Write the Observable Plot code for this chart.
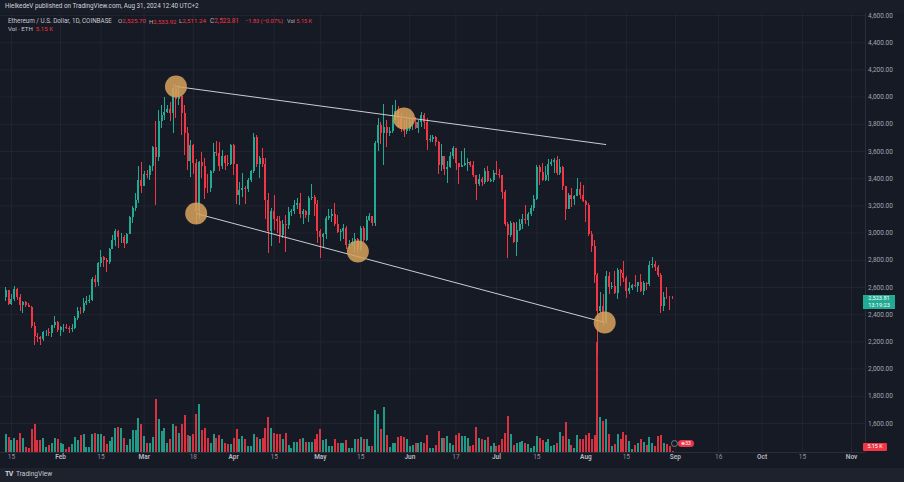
<!DOCTYPE html>
<html>
<head>
<meta charset="utf-8">
<script src="https://cdn.jsdelivr.net/npm/d3@7"></script>
<script src="https://cdn.jsdelivr.net/npm/@observablehq/plot@0.6"></script>
<style>
  html, body { margin: 0; padding: 0; background: #161a25; }
  #wrap { position: relative; width: 904px; height: 482px; overflow: hidden; background: #161a25; font-family: Roboto, "Noto Sans", sans-serif; }
  #wrap svg { position: absolute; left: 0; top: 0; }
  .ov { position: absolute; white-space: nowrap; font-size: 6.4px; line-height: 8px; color: #c4c7cf; }
  .red { color: #f23645; }
  .grey { color: #b2b5be; }
</style>
</head>
<body>
<div id="wrap"></div>
<script>
// ---------------- DATA (ETH / USD, 1D, Coinbase, from 2024-01-13) ----------------
const firstDate = "2024-01-13";
const firstOpen = 2525;

const closes = [
  2577, 2474, 2510, 2587, 2529, 2469, 2490, 2470, 2455, 2313, 2241, 2235, 2219, 2268, 2272, 2259, 2317, 2343, 2283,
  2303, 2309, 2296, 2289, 2297, 2372, 2425, 2420, 2486, 2500, 2507, 2660, 2640, 2780, 2822, 2800, 2785, 2880, 2945, 3015, 2968, 2970, 2922, 2990, 3113, 3180, 3243, 3385, 3340,
  3434, 3420, 3489, 3630, 3553, 3818, 3868, 3885, 3910, 3880, 4066, 3980, 4005, 3880, 3735, 3525, 3645, 3515, 3160, 3518, 3490, 3330, 3325, 3455, 3590, 3587, 3490, 3560, 3510, 3505, 3647,
  3505, 3280, 3312, 3330, 3318, 3390, 3452, 3700, 3505, 3545, 3505, 3240, 3010, 3160, 3100, 3085, 2985, 3065, 3055, 3155, 3158, 3200, 3220, 3140, 3160, 3130, 3255, 3265, 3210, 3015,
  2970, 2990, 3105, 3120, 3135, 3060, 3005, 3015, 3035, 2910, 2915, 2930, 2950, 2880, 3035, 2945, 3090, 3120, 3070, 3660, 3790, 3735, 3780, 3730, 3750, 3825, 3895, 3845, 3765, 3745, 3760,
  3812, 3815, 3767, 3810, 3865, 3810, 3680, 3685, 3705, 3665, 3500, 3560, 3470, 3480, 3565, 3620, 3510, 3480, 3500, 3510, 3520, 3495, 3420, 3355, 3395, 3370, 3450, 3380, 3385, 3435,
  3430, 3420, 3295, 3060, 2985, 3070, 2930, 3020, 3065, 3100, 3095, 3135, 3180, 3245, 3485, 3445, 3390, 3425, 3505, 3520, 3535, 3440, 3480, 3340, 3175, 3275, 3250, 3270, 3320, 3280, 3230,
  3205, 2990, 2905, 2690, 2420, 2460, 2340, 2680, 2600, 2610, 2555, 2725, 2705, 2665, 2570, 2595, 2615, 2610, 2635, 2570, 2630, 2625, 2765, 2770, 2750, 2685, 2460, 2530, 2528, 2525.64, 2523.81
];
const highs = [
  2600, 2580, 2550, 2610, 2590, 2548, 2500, 2500, 2480, 2460, 2340, 2260, 2240, 2280, 2285, 2300, 2320, 2390, 2350,
  2310, 2330, 2325, 2310, 2330, 2390, 2450, 2450, 2520, 2535, 2540, 2670, 2690, 2785, 2870, 2830, 2815, 2890, 2985, 3030, 3020, 3000, 2985, 3000, 3120, 3195, 3290, 3490, 3520,
  3450, 3460, 3500, 3640, 3822, 3900, 3940, 3997, 3935, 3960, 4085, 4094, 4085, 4010, 3935, 3780, 3680, 3650, 3540, 3530, 3590, 3545, 3430, 3460, 3660, 3675, 3665, 3610, 3570, 3570, 3655,
  3650, 3505, 3370, 3440, 3340, 3400, 3460, 3730, 3720, 3560, 3620, 3550, 3290, 3180, 3280, 3125, 3120, 3090, 3130, 3190, 3175, 3240, 3255, 3290, 3170, 3165, 3270, 3355, 3280, 3240,
  3025, 3000, 3125, 3170, 3175, 3220, 3130, 3030, 3060, 3050, 2945, 2960, 2995, 2960, 3045, 3045, 3120, 3145, 3125, 3675, 3840, 3810, 3945, 3830, 3780, 3935, 3975, 3930, 3880, 3825, 3845,
  3835, 3840, 3850, 3830, 3885, 3880, 3840, 3715, 3715, 3710, 3670, 3655, 3560, 3525, 3590, 3640, 3625, 3515, 3600, 3625, 3545, 3530, 3525, 3410, 3430, 3410, 3475, 3490, 3400, 3460,
  3525, 3470, 3425, 3310, 3080, 3085, 3080, 3075, 3100, 3140, 3205, 3150, 3200, 3275, 3500, 3500, 3515, 3490, 3540, 3540, 3545, 3560, 3540, 3490, 3345, 3290, 3330, 3280, 3400, 3370, 3350,
  3240, 3215, 3015, 2945, 2700, 2560, 2550, 2715, 2710, 2640, 2720, 2740, 2735, 2790, 2680, 2640, 2620, 2690, 2640, 2695, 2645, 2640, 2790, 2820, 2790, 2760, 2700, 2560, 2600, 2535, 2533.92
];
const lows = [
  2500, 2470, 2470, 2500, 2505, 2420, 2410, 2455, 2450, 2300, 2170, 2195, 2170, 2200, 2240, 2240, 2230, 2300, 2270,
  2240, 2270, 2290, 2265, 2270, 2290, 2360, 2400, 2410, 2470, 2480, 2495, 2600, 2610, 2750, 2750, 2710, 2770, 2880, 2900, 2890, 2925, 2890, 2915, 2990, 3070, 3160, 3220, 3290,
  3340, 3400, 3390, 3450, 3200, 3530, 3770, 3830, 3880, 3820, 3735, 3840, 3935, 3720, 3570, 3460, 3410, 3430, 3060, 3100, 3400, 3250, 3290, 3300, 3440, 3560, 3455, 3470, 3460, 3490, 3500,
  3420, 3210, 3200, 3260, 3210, 3300, 3375, 3440, 3480, 3400, 3480, 3100, 2850, 2900, 3020, 3000, 2920, 2960, 2860, 3030, 3120, 3140, 3170, 3110, 3060, 3110, 3075, 3240, 3120, 2920,
  2815, 2890, 2955, 3090, 3080, 3045, 3000, 2940, 2950, 2880, 2880, 2900, 2860, 2860, 2865, 2930, 2935, 3085, 3050, 3050, 3600, 3655, 3500, 3630, 3710, 3735, 3825, 3775, 3740, 3700, 3725,
  3750, 3755, 3760, 3730, 3775, 3760, 3610, 3665, 3665, 3640, 3430, 3450, 3425, 3365, 3475, 3540, 3460, 3360, 3480, 3490, 3450, 3485, 3410, 3240, 3345, 3340, 3360, 3375, 3370, 3370,
  3420, 3400, 3250, 3050, 2810, 2970, 2920, 2830, 3010, 3030, 3060, 3050, 3120, 3160, 3240, 3350, 3380, 3380, 3380, 3490, 3440, 3420, 3420, 3310, 3090, 3170, 3190, 3200, 3310, 3250, 3225,
  3080, 2975, 2860, 2630, 2111, 2410, 2310, 2330, 2550, 2585, 2550, 2510, 2610, 2640, 2520, 2550, 2580, 2600, 2565, 2560, 2540, 2575, 2610, 2740, 2715, 2675, 2410, 2420, 2510, 2430, 2511.24
];
// volume in thousands of ETH
const volumes = [
  180, 150, 120, 140, 120, 190, 140, 50, 40, 230, 280, 120, 120, 140, 50, 70, 90, 140, 130,
  90, 80, 30, 50, 80, 150, 120, 170, 180, 50, 50, 180, 190, 180, 180, 160, 80, 110, 150, 240, 250, 240, 140, 70, 130, 220, 220, 340, 280,
  160, 90, 90, 150, 530, 330, 210, 240, 90, 130, 280, 260, 190, 280, 370, 170, 160, 180, 380, 480, 220, 240, 140, 90, 180, 140, 170, 130, 90, 80, 80,
  140, 230, 130, 160, 130, 60, 60, 180, 150, 130, 140, 240, 350, 240, 190, 180, 180, 130, 190, 70, 40, 100, 100, 130, 140, 100, 100, 100, 130, 180,
  230, 120, 130, 60, 60, 130, 90, 90, 90, 120, 40, 40, 130, 130, 150, 130, 130, 60, 60, 420, 380, 230, 450, 170, 50, 90, 90, 150, 160, 150, 130,
  60, 70, 90, 90, 100, 90, 170, 40, 40, 70, 210, 140, 140, 160, 90, 70, 170, 190, 160, 160, 140, 60, 70, 250, 140, 130, 120, 150, 60, 90,
  60, 70, 130, 190, 360, 180, 70, 90, 100, 110, 90, 80, 40, 60, 160, 140, 120, 100, 130, 60, 70, 90, 200, 160, 300, 130, 70, 40, 170, 130, 130,
  170, 190, 130, 170, 1100, 350, 310, 330, 180, 60, 80, 180, 130, 200, 170, 110, 30, 70, 90, 130, 100, 70, 150, 90, 60, 160, 170, 90, 80, 60, 5.15
];

// Annotations: highlighted touch points and the two trend lines
const touchDates  = ["2024-03-12", "2024-03-19", "2024-05-14", "2024-05-30", "2024-08-07T12:00Z"];
const touchPrices = [4078, 3144, 2865, 3843, 2343];
const trendStartDates  = ["2024-03-12", "2024-03-19"];
const trendStartPrices = [4078, 3144];
const trendEndDates    = ["2024-08-08", "2024-08-07T12:00Z"];
const trendEndPrices   = [3651, 2343];

// Axis ticks
const priceTicks = [1600, 1800, 2000, 2200, 2400, 2600, 2800, 3000, 3200, 3400, 3600, 3800, 4000, 4200, 4400, 4600];
const monthTickDates  = ["2024-02-01", "2024-03-01", "2024-04-01", "2024-05-01", "2024-06-01", "2024-07-01", "2024-08-01", "2024-09-01", "2024-10-01", "2024-11-01"];
const monthTickLabels = ["Feb", "Mar", "Apr", "May", "Jun", "Jul", "Aug", "Sep", "Oct", "Nov"];
const dayTickDates  = ["2024-01-15", "2024-02-15", "2024-03-18", "2024-04-15", "2024-05-15", "2024-06-17", "2024-07-15", "2024-08-15", "2024-09-16", "2024-10-15"];
const dayTickLabels = ["15", "15", "18", "15", "15", "17", "15", "15", "16", "15"];

// ---------------- LAYOUT ----------------
const UP = "#22ab94", DOWN = "#f23645";
const W = 904, H = 468;
const MT = 12, MR = 39, MB = 16, ML = 0;
const DAY = 864e5;
const pxPerDay = 2.887, feb1X = 60;
const feb1 = Date.UTC(2024, 1, 1);
const xDomain = [new Date(feb1 - feb1X / pxPerDay * DAY), new Date(feb1 + (W - MR - feb1X) / pxPerDay * DAY)];
const pxPerDollar = 0.136, y4600 = 15;
const priceDomain = [4600 - (H - MB - y4600) / pxPerDollar, 4600 + (y4600 - MT) / pxPerDollar];
const volDomain = [0, (H - MB - MT) * 10];

const t0 = new Date(firstDate + "T00:00Z").getTime();
const candles = closes.map((c, i) => {
  const open = i === 0 ? firstOpen : closes[i - 1];
  return {date: new Date(t0 + i * DAY), open, high: highs[i], low: lows[i], close: c, vol: volumes[i], color: c >= open ? UP : DOWN};
});
const touches = touchDates.map((d, i) => ({date: new Date(d), price: touchPrices[i]}));
const trends = trendStartDates.map((d, i) => ({d1: new Date(d), p1: trendStartPrices[i], d2: new Date(trendEndDates[i]), p2: trendEndPrices[i]}));
const months = monthTickLabels.map((l, i) => ({date: new Date(monthTickDates[i]), label: l}));
const days = dayTickLabels.map((l, i) => ({date: new Date(dayTickDates[i]), label: l}));

const base = {
  width: W, height: H, marginTop: MT, marginRight: MR, marginBottom: MB, marginLeft: ML,
  style: {background: "transparent", fontFamily: "Roboto, sans-serif", fontSize: "6.5px", color: "#a3a6af", overflow: "visible"}
};
const GRID = "#2a2e39";

const gridPlot = Plot.plot({
  ...base,
  x: {type: "utc", domain: xDomain, axis: null},
  y: {domain: priceDomain},
  marks: [
    Plot.ruleY(priceTicks, {stroke: GRID, strokeOpacity: 0.55}),
    Plot.ruleX(months.concat(days), {x: "date", stroke: GRID, strokeOpacity: 0.55}),
    Plot.ruleX([xDomain[1]], {stroke: GRID, strokeWidth: 1, y1: priceDomain[0], y2: priceDomain[1]}),
    Plot.ruleY([priceDomain[0]], {stroke: GRID, strokeWidth: 1}),
    Plot.axisY(priceTicks, {anchor: "right", tickSize: 0, tickPadding: 2.5, tickFormat: d3.format(",.2f"), label: null}),
    Plot.text(days, {x: "date", text: "label", frameAnchor: "bottom", dy: 6.5, fill: "#8f929b"}),
    Plot.text(months, {x: "date", text: "label", frameAnchor: "bottom", dy: 6.5, fill: "#b8bbc3", fontWeight: 600})
  ]
});

const volPlot = Plot.plot({
  ...base,
  x: {type: "utc", domain: xDomain, axis: null},
  y: {domain: volDomain, axis: null},
  color: {type: "identity"},
  marks: [
    Plot.ruleX(candles, {x: "date", y1: 0, y2: "vol", stroke: "color", strokeWidth: 2, strokeOpacity: 0.88, shapeRendering: "crispEdges"})
  ]
});

const candlePlot = Plot.plot({
  ...base,
  x: {type: "utc", domain: xDomain, axis: null},
  y: {domain: priceDomain, axis: null},
  color: {type: "identity"},
  marks: [
    Plot.ruleX(candles, {x: "date", y1: "low", y2: "high", stroke: "color", strokeWidth: 1, shapeRendering: "crispEdges"}),
    Plot.ruleX(candles, {x: "date", y1: "open", y2: "close", stroke: "color", strokeWidth: 2, shapeRendering: "crispEdges"}),
    Plot.link(trends, {x1: "d1", y1: "p1", x2: "d2", y2: "p2", stroke: "#c9ccd4", strokeWidth: 1}),
    Plot.dot(touches, {x: "date", y: "price", r: 11, fill: "#d6a35c", fillOpacity: 0.86, stroke: "none"})
  ]
});

const wrap = document.getElementById("wrap");
wrap.append(gridPlot, volPlot, candlePlot);

// ---------------- OVERLAYS (header, labels, footer) ----------------
function div(css, html, cls) {
  const d = document.createElement("div");
  d.className = "ov" + (cls ? " " + cls : "");
  d.style.cssText = css;
  d.innerHTML = html;
  wrap.appendChild(d);
  return d;
}
// size a text overlay so that its width matches the reference
function fit(el, targetWidth, cy) {
  const w = el.getBoundingClientRect().width;
  const fs = parseFloat(getComputedStyle(el).fontSize);
  const nfs = Math.max(5, Math.min(9, fs * targetWidth / w));
  el.style.fontSize = nfs + "px";
  el.style.lineHeight = "9px";
  el.style.top = (cy - 4.5) + "px";
}
// top strip
div("left:0;top:0;width:904px;height:13px;background:#191d28;", "");
fit(div("left:5px;color:#d1d4dc;", "HielkedeV published on TradingView.com, Aug 31, 2024 12:40 UTC+2"), 194, 6.5);
// legend
const lastCandle = candles[candles.length - 1];
fit(div("left:8px;", "Ethereum / U.S. Dollar, 1D, COINBASE"), 104, 21);
fit(div("left:118px;", '<span class="grey">O</span><span class="red">2,525.70</span>'), 28, 21);
fit(div("left:149px;", '<span class="grey">H</span><span class="red">2,533.92</span>'), 27.5, 21);
fit(div("left:179px;", '<span class="grey">L</span><span class="red">2,511.24</span>'), 27, 21);
fit(div("left:210px;", '<span class="grey">C</span><span class="red">2,523.81</span>'), 29, 21);
fit(div("left:245px;", '<span class="red">\u22121.83 (\u22120.07%)</span>'), 38, 21);
fit(div("left:287px;", '<span class="grey">Vol</span> <span class="red">5.15 K</span>'), 25, 21);
fit(div("left:8px;", 'Vol \u00b7 ETH &nbsp;<span class="red">5.15 K</span>'), 45, 28.7);

// last price box on the price scale
const yP = gridPlot.scale("y");
const yLast = yP.apply(lastCandle.close);
div(`left:863px;top:${yLast - 2.5}px;width:32px;height:14px;background:${UP};color:#fff;font-size:5.6px;line-height:6.5px;text-align:center;padding-top:0.5px;box-sizing:border-box;`,
    "2,523.81<br>13:19:23");
// volume box
const yV = volPlot.scale("y");
const yVol = yV.apply(lastCandle.vol);
div(`left:863px;top:${yVol - 8}px;width:24px;height:7.5px;background:${DOWN};color:#fff;font-size:5.4px;line-height:7.5px;text-align:center;border-radius:1px;`, "5.15 K");
// events marker near the last bar
const xS = gridPlot.scale("x");
const xLast = xS.apply(lastCandle.date);
div(`left:${xLast - 1}px;top:439.5px;width:7px;height:7px;border-radius:50%;border:1px solid #7d808a;box-sizing:border-box;background:#161a25;`, "");
div(`left:${xLast + 6}px;top:439.5px;width:16px;height:7px;border-radius:4px;background:#e8354a;color:#fff;font-size:5px;line-height:7px;text-align:center;`, "\u229533");

// footer strip
div("left:0;top:468px;width:904px;height:14px;background:#1e222d;", "");
div("left:5px;top:470px;color:#d1d4dc;font-weight:700;font-size:7px;letter-spacing:-0.6px;", "TV");
div("left:16px;top:470px;color:#c4c7cf;font-size:6.6px;", "TradingView");
</script>
</body>
</html>
